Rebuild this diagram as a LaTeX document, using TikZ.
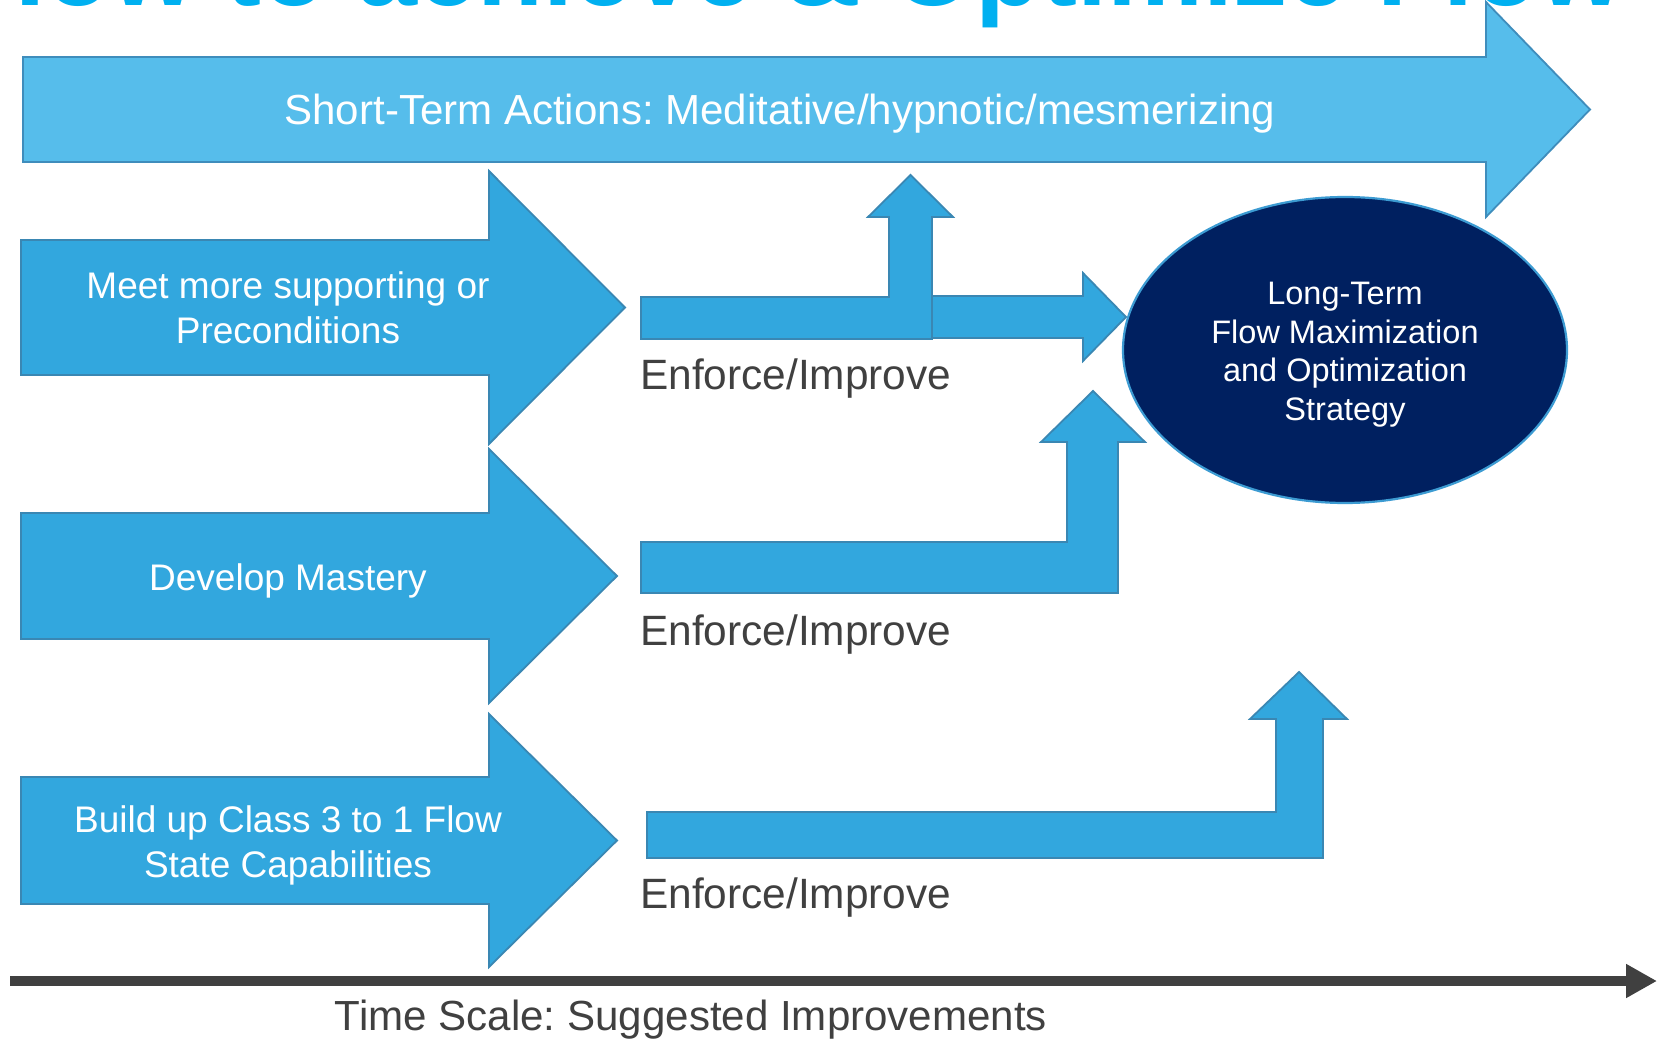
\documentclass[tikz,border=0pt]{standalone}
\usepackage{fontspec}
\setmainfont{Liberation Sans}
\usetikzlibrary{shapes.geometric,arrows.meta}
\frenchspacing
\definecolor{lightarrow}{HTML}{56BDEB}
\definecolor{lightedge}{HTML}{3F8DBC}
\definecolor{midarrow}{HTML}{32A7DE}
\definecolor{midedge}{HTML}{3A87B3}
\definecolor{navyfill}{HTML}{002060}
\definecolor{navyedge}{HTML}{3C9BD2}
\definecolor{darktext}{HTML}{404040}
\definecolor{titleblue}{HTML}{00B0F0}
\tikzset{
  toparrow/.style={fill=lightarrow, draw=lightedge, line width=1.8pt, line join=miter},
  rowarrow/.style={fill=midarrow, draw=midedge, line width=1.8pt, line join=miter},
  rowtext/.style={text=white, align=center, inner sep=0pt, font=\fontsize{37}{45}\selectfont},
  enforce/.style={text=darktext, inner sep=0pt, anchor=base west, font=\fontsize{42.4}{50}\selectfont},
  goal/.style={ellipse, fill=navyfill, draw=navyedge, line width=2.2pt, minimum width=444pt, minimum height=306pt, inner sep=0pt, text=white, align=center, font=\fontsize{32.5}{38.5}\selectfont},
  timeaxis/.style={draw=darktext, line width=10pt, -{Triangle[length=31pt,width=32pt]}},
}
\begin{document}
\begin{tikzpicture}[x=1pt,y=-1pt]
\useasboundingbox (0,0) rectangle (1657,1040);
\clip (0,0) rectangle (1657,1040);
\fill[white] (0,0) rectangle (1657,1040);

% title (cut off at the top, as in the reference)
\node (title) [anchor=base east, inner sep=0pt, text=titleblue, font=\fontsize{108}{120}\selectfont\bfseries] at (1624,6) {How to achieve \& Optimize Flow};

% top long arrow
\filldraw[toparrow] (23,57) -- (1486,57) -- (1486,2) -- (1590,109.5) -- (1486,217) -- (1486,162) -- (23,162) -- cycle;
\node (short) [anchor=base, inner sep=0pt, text=white, font=\fontsize{42.05}{50}\selectfont] at (780,125) {Short-Term Actions: Meditative/hypnotic/mesmerizing};

% row arrows
\filldraw[rowarrow] (21,240) -- (489,240) -- (489,171) -- (625,307.5) -- (489,444) -- (489,375) -- (21,375) -- cycle;
\filldraw[rowarrow] (21,513) -- (489,513) -- (489,449) -- (617,576) -- (489,703) -- (489,639) -- (21,639) -- cycle;
\filldraw[rowarrow] (21,777) -- (489,777) -- (489,714) -- (617,840.5) -- (489,967) -- (489,904) -- (21,904) -- cycle;

\node (meet) [rowtext] at (288,308) {Meet more supporting or\\Preconditions};
\node (mastery) [rowtext, anchor=base] at (288,590) {Develop Mastery};
\node (build) [rowtext] at (288,845) {Build up Class 3 to 1 Flow\\State Capabilities};

% bent arrows
\filldraw[rowarrow] (641,297) -- (889,297) -- (889,217) -- (868,217) -- (910.5,175) -- (953,217) -- (932,217) -- (932,339) -- (641,339) -- cycle;
\filldraw[rowarrow] (932,296) -- (1083,296) -- (1083,273) -- (1126,317) -- (1083,361) -- (1083,338) -- (932,338) -- cycle;
\filldraw[rowarrow] (641,542) -- (1067,542) -- (1067,442) -- (1041,442) -- (1093,391) -- (1145,442) -- (1118,442) -- (1118,593) -- (641,593) -- cycle;
\filldraw[rowarrow] (647,812) -- (1276,812) -- (1276,719) -- (1250,719) -- (1299,672) -- (1347,719) -- (1323,719) -- (1323,858) -- (647,858) -- cycle;

\node (enf1) [enforce] at (640,390) {Enforce/Improve};
\node (enf2) [enforce] at (640,645) {Enforce/Improve};
\node (enf3) [enforce] at (640,908) {Enforce/Improve};

% long-term goal
\node (goal) [goal] at (1345,350) {\rule{0pt}{31.5pt}Long-Term\\Flow Maximization\\and Optimization\\Strategy};

% time axis
\coordinate (tstart) at (10,981);
\coordinate (tend) at (1657,981);
\draw[timeaxis] (tstart) -- (tend);
\node (timelabel) [anchor=base, inner sep=0pt, text=darktext, font=\fontsize{42.1}{50}\selectfont] at (691,1030) {Time Scale: Suggested Improvements};
\end{tikzpicture}
\end{document}
